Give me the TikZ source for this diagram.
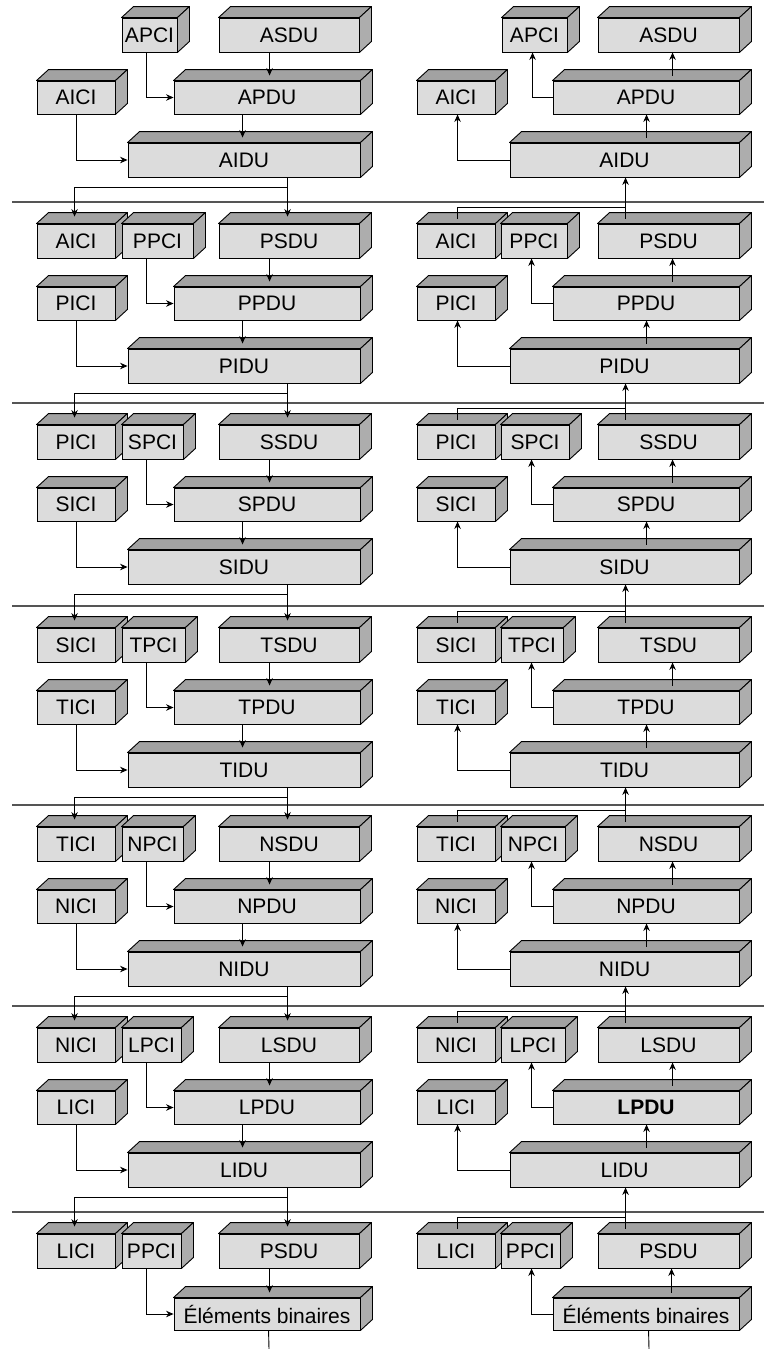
\documentclass[tikz,border=0pt]{standalone}
\usepackage{fontspec}
\setmainfont{Liberation Sans}
\usetikzlibrary{arrows.meta}
\definecolor{frontc}{HTML}{DCDCDC}
\definecolor{topc}{HTML}{A2A2A2}
\definecolor{sidec}{HTML}{ADADAD}
\definecolor{sepc}{HTML}{555555}
\tikzset{
 frontbox/.style={draw=black, line width=0.9pt, fill=frontc, inner sep=0pt, font=\fontsize{21}{21}\selectfont},
 topbox/.style={draw=black, line width=0.9pt, fill=topc, line join=round},
 sidebox/.style={draw=black, line width=0.9pt, fill=sidec, line join=round},
 arr/.style={draw=black, line width=0.9pt, -{Stealth[length=7.5pt,width=6.5pt]}},
 conn/.style={draw=black, line width=0.9pt},
 sepline/.style={draw=sepc, line width=1.6pt},
}
% name, x1, y1, x2, y2, text
\newcommand\cube[6]{%
 \node[frontbox, minimum width={(#4)-(#2)}, minimum height={(#5)-(#3)}] (#1) at ({((#2)+(#4))/2},{((#3)+(#5))/2}) {#6};
 \filldraw[topbox] (#1.north west) -- ++(12pt,11pt) -- ([shift={(12pt,11pt)}]#1.north east) -- (#1.north east) -- cycle;
 \filldraw[sidebox] (#1.north east) -- ([shift={(12pt,11pt)}]#1.north east) -- ([shift={(12pt,11pt)}]#1.south east) -- (#1.south east) -- cycle;
}
\newcommand\leftconn[1]{%
 \draw[arr] ([xshift=51pt]L#1s.south west) -- ([xshift=96pt,yshift=5pt]L#1p.north west);
 \draw[arr] ([xshift=25pt]L#1c.south west) |- (L#1p.west);
 \draw[arr] ([xshift=69pt]L#1p.south west) -- ([xshift=115pt,yshift=5pt]L#1d.north west);
 \draw[arr] (L#1i.south) |- (L#1d.west);
}
\newcommand\rightconn[1]{%
 \draw[arr] (R#1d.west) -| ([xshift=41pt]R#1i.south west);
 \draw[arr] ([xshift=137pt,yshift=5pt]R#1d.north west) -- ([xshift=94pt]R#1p.south west);
 \draw[arr] (R#1p.west) -| ([xshift=31pt]R#1c.south west);
 \draw[arr] ([xshift=120pt,yshift=5pt]R#1p.north west) -- ([xshift=75pt]R#1s.south west);
}
\begin{document}
\begin{tikzpicture}[x=1pt,y=-1pt]
\useasboundingbox (0,0) rectangle (764,1349);
\foreach \yy in {202,403,606,805,1006,1212} \draw[sepline] (12,\yy) -- (764,\yy);
% section 0
\cube{L0c}{122}{18}{177}{52}{APCI}
\cube{L0s}{219}{18}{359}{52}{ASDU}
\cube{L0i}{37}{81}{115}{114}{AICI}
\cube{L0p}{174}{81}{360}{114}{APDU}
\cube{L0d}{128}{143}{360}{177}{AIDU}
\cube{R0c}{502}{18}{567}{52}{APCI}
\cube{R0s}{598}{18}{739}{52}{ASDU}
\cube{R0i}{417}{81}{495}{114}{AICI}
\cube{R0p}{553}{81}{739}{114}{APDU}
\cube{R0d}{510}{143}{739}{177}{AIDU}
\leftconn{0}
\rightconn{0}
% sections 1-5
\foreach \sn/\sy/\ta/\tc/\ts/\ti/\tp/\tq/\td/\xl/\xr in {
 1/202/AICI/PPCI/PSDU/PICI/PPDU/PPDU/PIDU/193/567,
 2/403/PICI/SPCI/SSDU/SICI/SPDU/SPDU/SIDU/183/569,
 3/606/SICI/TPCI/TSDU/TICI/TPDU/TPDU/TIDU/185/563,
 4/805/TICI/NPCI/NSDU/NICI/NPDU/NPDU/NIDU/183/565,
 5/1006/NICI/LPCI/LSDU/LICI/LPDU/{\textbf{LPDU}}/LIDU/181/565}{
 \cube{L\sn a}{37}{\sy+22}{115}{\sy+56}{\ta}
 \cube{L\sn c}{122}{\sy+22}{\xl}{\sy+56}{\tc}
 \cube{L\sn s}{219}{\sy+22}{359}{\sy+56}{\ts}
 \cube{L\sn i}{37}{\sy+85}{115}{\sy+118}{\ti}
 \cube{L\sn p}{174}{\sy+85}{360}{\sy+118}{\tp}
 \cube{L\sn d}{128}{\sy+147}{360}{\sy+181}{\td}
 \cube{R\sn a}{417}{\sy+22}{495}{\sy+56}{\ta}
 \cube{R\sn c}{501}{\sy+22}{\xr}{\sy+56}{\tc}
 \cube{R\sn s}{598}{\sy+22}{739}{\sy+56}{\ts}
 \cube{R\sn i}{417}{\sy+85}{495}{\sy+118}{\ti}
 \cube{R\sn p}{553}{\sy+85}{739}{\sy+118}{\tq}
 \cube{R\sn d}{510}{\sy+147}{739}{\sy+181}{\td}
 \leftconn{\sn}
 \rightconn{\sn}
}
% section 6
\cube{L6a}{37}{1234}{115}{1268}{LICI}
\cube{L6c}{122}{1234}{181}{1268}{PPCI}
\cube{L6s}{219}{1234}{359}{1268}{PSDU}
\cube{L6p}{174}{1298}{360}{1330}{Éléments binaires}
\cube{R6a}{417}{1234}{495}{1268}{LICI}
\cube{R6c}{501}{1234}{560}{1268}{PPCI}
\cube{R6s}{598}{1234}{739}{1268}{PSDU}
\cube{R6p}{553}{1298}{739}{1330}{Éléments binaires}
\coordinate (Lend) at (269,1349);
\coordinate (Rend) at (649,1349);
\draw[arr] ([xshift=51pt]L6s.south west) -- ([xshift=96pt,yshift=5pt]L6p.north west);
\draw[arr] ([xshift=25pt]L6c.south west) |- (L6p.west);
\draw[conn] ([xshift=95pt]L6p.south west) -- (Lend);
\draw[arr] (R6p.west) -| ([xshift=31pt]R6c.south west);
\draw[arr] ([xshift=119pt,yshift=5pt]R6p.north west) -- ([xshift=74pt]R6s.south west);
\draw[conn] ([xshift=96pt]R6p.south west) -- (Rend);
% links between sections
\foreach \sn in {0,...,5}{
 \pgfmathtruncatemacro\nx{\sn+1}
 \draw[arr] ([xshift=160pt]L\sn d.south west) -- ([xshift=69pt,yshift=7pt]L\nx s.north west);
 \draw[arr] ([xshift=160pt]L\sn d.south west) ++(0,-10pt) -| ([xshift=38pt,yshift=7pt]L\nx a.north west);
 \draw[arr] ([xshift=28pt,yshift=5pt]R\nx s.north west) -- ([xshift=116pt]R\sn d.south west);
 \draw[conn] ([xshift=41pt,yshift=5pt]R\nx a.north west) |- ([xshift=28pt,yshift=16pt]R\nx s.north west);
}
\end{tikzpicture}
\end{document}
